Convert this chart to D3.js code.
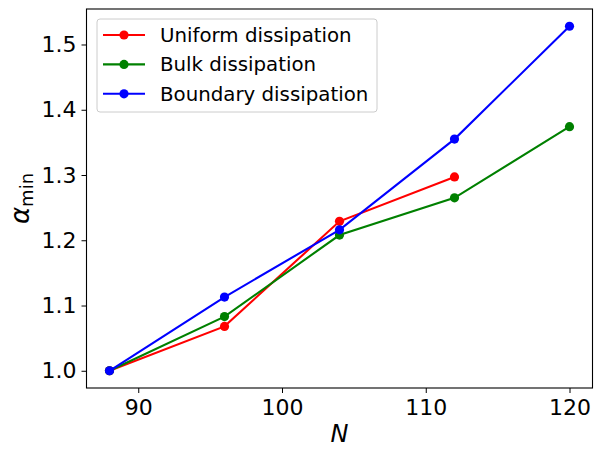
<!DOCTYPE html>
<html>
<head>
<meta charset="utf-8">
<script src="https://cdn.jsdelivr.net/npm/d3@7"></script>
<style>
  html, body { margin: 0; padding: 0; background: #fff; }
  svg { display: block; font-family: "DejaVu Sans", sans-serif; }
</style>
</head>
<body>
<svg id="chart" width="594" height="451"></svg>
<script>
const xValues = [88, 96, 104, 112, 120];
const uniform = [1.0, 1.068, 1.229, 1.297];
const bulk = [1.0, 1.083, 1.208, 1.265, 1.374];
const boundary = [1.0, 1.113, 1.216, 1.355, 1.528];
const seriesNames = ["Uniform dissipation", "Bulk dissipation", "Boundary dissipation"];
const seriesColors = ["#ff0000", "#008000", "#0000ff"];
const xTicks = [90, 100, 110, 120];
const yTicks = [1.0, 1.1, 1.2, 1.3, 1.4, 1.5];

const series = [uniform, bulk, boundary].map((vals, i) => ({
  name: seriesNames[i], color: seriesColors[i],
  points: vals.map((v, j) => ({ x: xValues[j], y: v }))
}));

const svg = d3.select("#chart");
const L = 86.5, R = 592.5, T = 9, B = 388;

const x = d3.scaleLinear().domain([86.4, 121.6]).range([L, R]);
const y = d3.scaleLinear().domain([0.9736, 1.5544]).range([B, T]);

// axes
const xAxis = svg.append("g").attr("transform", `translate(0,${B})`)
  .call(d3.axisBottom(x).tickValues(xTicks).tickFormat(d3.format("d")).tickSize(5).tickPadding(6).tickSizeOuter(0));
const yAxis = svg.append("g").attr("transform", `translate(${L},0)`)
  .call(d3.axisLeft(y).tickValues(yTicks).tickFormat(d3.format(".1f")).tickSize(5).tickPadding(5).tickSizeOuter(0));
[xAxis, yAxis].forEach(g => {
  g.select(".domain").remove();
  g.selectAll("line").attr("stroke", "#000").attr("stroke-width", 1);
  g.selectAll("text").attr("fill", "#000").attr("font-size", "22px").attr("font-family", "DejaVu Sans");
});

// frame
svg.append("rect").attr("x", L).attr("y", T).attr("width", R - L).attr("height", B - T)
  .attr("fill", "none").attr("stroke", "#000").attr("stroke-width", 1.1);

// lines
const line = d3.line().x(d => x(d.x)).y(d => y(d.y));
const gPlot = svg.append("g");
series.forEach(s => {
  gPlot.append("path").datum(s.points).attr("d", line)
    .attr("fill", "none").attr("stroke", s.color).attr("stroke-width", 2.1);
  gPlot.selectAll(null).data(s.points).enter().append("circle")
    .attr("cx", d => x(d.x)).attr("cy", d => y(d.y)).attr("r", 4.6)
    .attr("fill", s.color);
});

// legend
const lg = svg.append("g");
lg.append("rect").attr("x", 97).attr("y", 19).attr("width", 280).attr("height", 93)
  .attr("rx", 3).attr("fill", "rgba(255,255,255,0.8)").attr("stroke", "#cccccc").attr("stroke-width", 1);
series.forEach((s, i) => {
  const yy = 35 + i * 29.4;
  lg.append("line").attr("x1", 103).attr("x2", 145).attr("y1", yy).attr("y2", yy)
    .attr("stroke", s.color).attr("stroke-width", 2.1);
  lg.append("circle").attr("cx", 124).attr("cy", yy).attr("r", 4.6).attr("fill", s.color);
  lg.append("text").attr("x", 160).attr("y", yy + 7).attr("font-size", "19.8px")
    .attr("fill", "#000").text(s.name);
});

// axis labels
svg.append("text").attr("x", (L + R) / 2).attr("y", 442).attr("text-anchor", "middle")
  .attr("font-size", "24px").attr("font-style", "italic").text("N");

const yl = svg.append("text").attr("transform", `translate(29,${(T + B) / 2}) rotate(-90)`)
  .attr("text-anchor", "middle").attr("font-size", "26px");
yl.append("tspan").attr("font-style", "italic").text("α");
yl.append("tspan").attr("font-size", "18px").attr("dy", 4).text("min");
</script>
</body>
</html>
